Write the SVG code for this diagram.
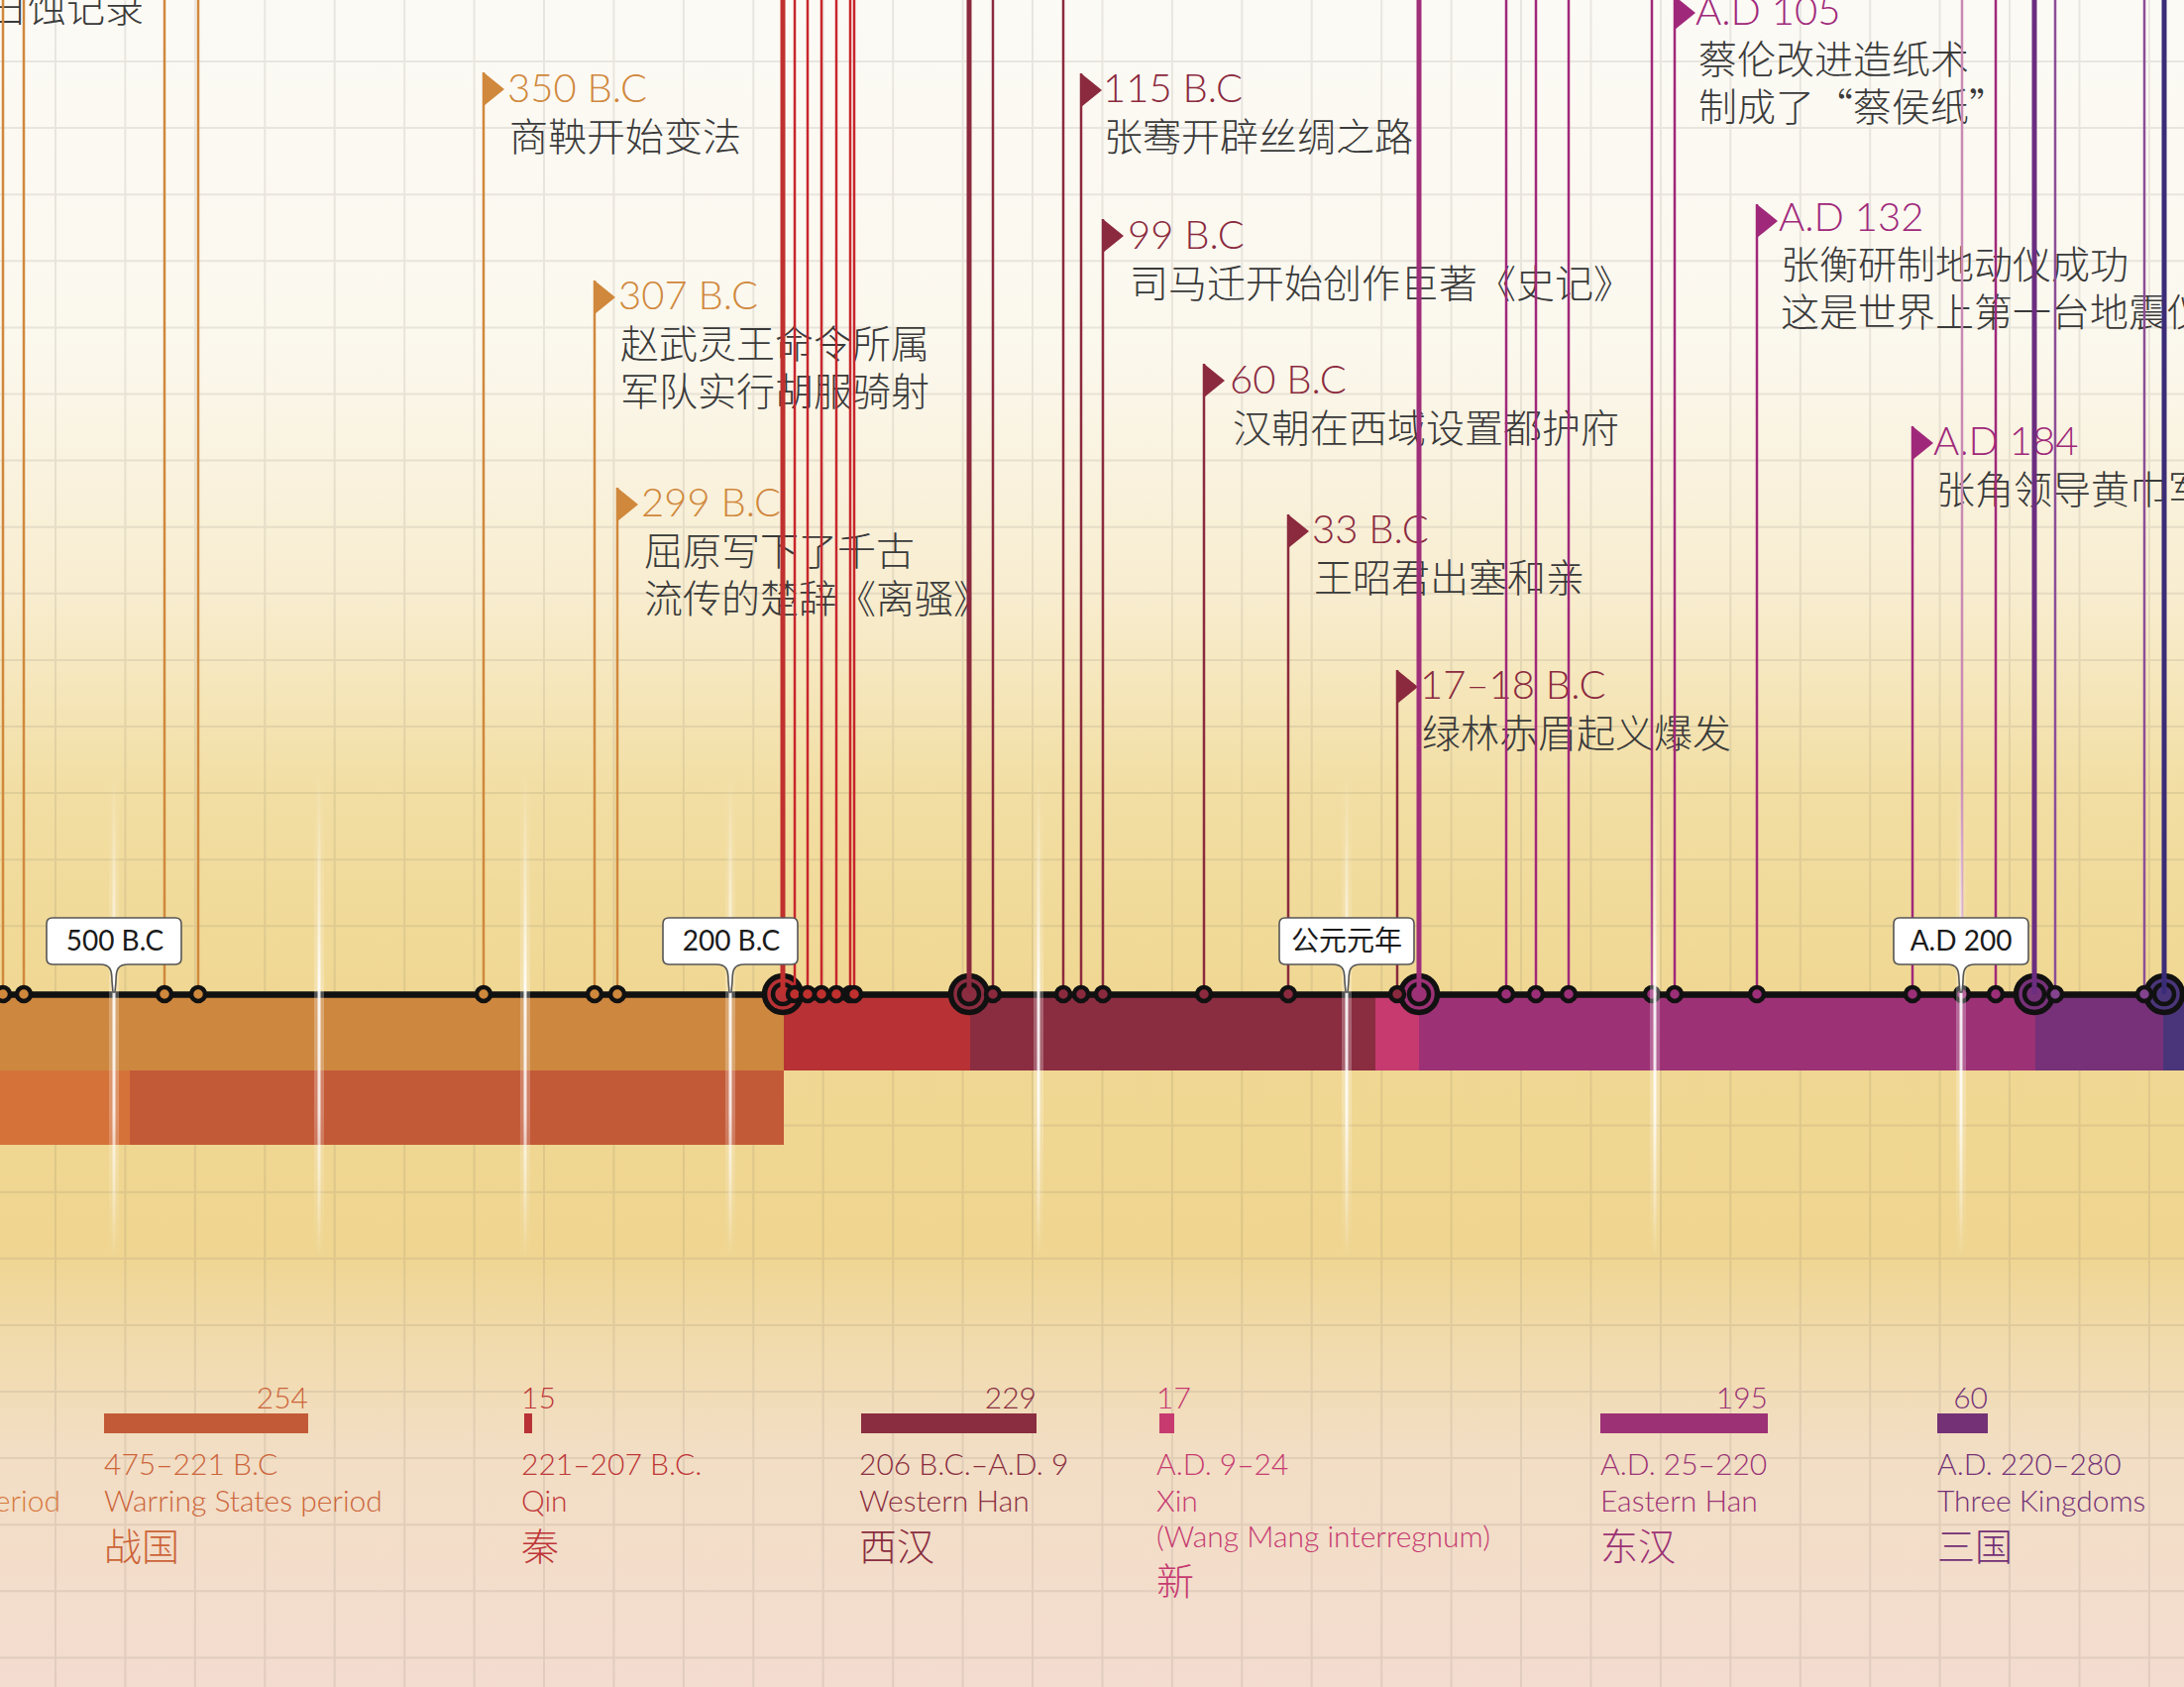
<svg xmlns="http://www.w3.org/2000/svg" width="2204" height="1702" viewBox="0 0 2204 1702">
<defs>
<linearGradient id="bg" x1="0" y1="0" x2="0" y2="1702" gradientUnits="userSpaceOnUse">
<stop offset="0" stop-color="#fcfaf5"/>
<stop offset="0.2" stop-color="#fbf8ee"/>
<stop offset="0.35" stop-color="#f8edd0"/>
<stop offset="0.47" stop-color="#f2dea3"/>
<stop offset="0.58" stop-color="#f0d894"/>
<stop offset="0.74" stop-color="#efd590"/>
<stop offset="0.8" stop-color="#f1dbae"/>
<stop offset="0.86" stop-color="#f2dec4"/>
<stop offset="1" stop-color="#f3dcd0"/>
</linearGradient>
<linearGradient id="glowG" x1="0" y1="780" x2="0" y2="1270" gradientUnits="userSpaceOnUse">
<stop offset="0" stop-color="#fff" stop-opacity="0"/>
<stop offset="0.3" stop-color="#fff" stop-opacity="0.5"/>
<stop offset="0.45" stop-color="#fff" stop-opacity="0.9"/>
<stop offset="0.7" stop-color="#fff" stop-opacity="0.8"/>
<stop offset="1" stop-color="#fff" stop-opacity="0"/>
</linearGradient>
<style>
.date{font-family:Lato,"Liberation Sans",sans-serif;font-weight:300;font-size:40px}
.desc{font-family:"Noto Sans CJK SC",sans-serif;font-weight:300;font-size:39px;fill:#3a3a3a}
.or{fill:#d0883c}
.wh{fill:#8b2a3e}
.eh{fill:#a0287a}
.ln{fill:none;stroke-width:2.5}
.thk{fill:none;stroke-width:5}
.dot{stroke:#111;stroke-width:4.5}
.big{stroke:#111;stroke-width:5.5}
.ring{fill:none;stroke:#111;stroke-width:4.5}
.box{fill:#fff;stroke:#555;stroke-width:1.6}
.boxt{font-family:Lato,"Liberation Sans","Noto Sans CJK SC",sans-serif;font-weight:400;font-size:28px;fill:#1a1a1a;text-anchor:middle}
.lg{font-family:Lato,"Liberation Sans",sans-serif;font-weight:300;font-size:30px}
.lgc{font-family:"Noto Sans CJK SC",sans-serif;font-weight:300;font-size:38px}
.glow{fill:url(#glowG)}
</style>
</defs>
<rect width="2204" height="1702" fill="url(#bg)"/>
<g id="grid">
<path fill="none" stroke="#6e645a" stroke-opacity="0.13" stroke-width="2" d="M56,0V1702M126.4,0V1702M196.9,0V1702M267.3,0V1702M337.7,0V1702M408.2,0V1702M478.6,0V1702M549,0V1702M619.4,0V1702M689.9,0V1702M760.3,0V1702M830.7,0V1702M901.2,0V1702M971.6,0V1702M1042,0V1702M1112.5,0V1702M1182.9,0V1702M1253.3,0V1702M1323.7,0V1702M1394.2,0V1702M1464.6,0V1702M1535,0V1702M1605.5,0V1702M1675.9,0V1702M1746.3,0V1702M1816.8,0V1702M1887.2,0V1702M1957.6,0V1702M2028,0V1702M2098.5,0V1702M2168.9,0V1702M0,62H2204M0,129.1H2204M0,196.2H2204M0,263.3H2204M0,330.4H2204M0,397.5H2204M0,464.6H2204M0,531.7H2204M0,598.8H2204M0,665.9H2204M0,733H2204M0,800.1H2204M0,867.2H2204M0,934.3H2204M0,1001.4H2204M0,1068.5H2204M0,1135.6H2204M0,1202.7H2204M0,1269.8H2204M0,1336.9H2204M0,1404H2204M0,1471.1H2204M0,1538.2H2204M0,1605.3H2204M0,1672.4H2204"/>
</g>
<g id="bands">
<rect x="0" y="1003" width="791" height="77" fill="#cd873f"/>
<rect x="791" y="1003" width="188" height="77" fill="#b83235"/>
<rect x="979" y="1003" width="409" height="77" fill="#8a2d40"/>
<rect x="1388" y="1003" width="44" height="77" fill="#c63a70"/>
<rect x="1432" y="1003" width="622" height="77" fill="#9c3275"/>
<rect x="2054" y="1003" width="129" height="77" fill="#763178"/>
<rect x="2183" y="1003" width="21" height="77" fill="#4b357a"/>
<rect x="0" y="1080" width="131" height="75" fill="#d5723a"/>
<rect x="131" y="1080" width="660" height="75" fill="#c35a37"/>
</g>
<g id="events">
<g id="ev-rishi"><text class="desc" x="-11" y="22">日蚀记录</text></g>
<g id="ev-350bc"><polygon class="or" points="488,73 509,90 488,107"/><text class="date or" x="512" y="103">350 B.C</text><text class="desc" x="514" y="152">商鞅开始变法</text></g>
<g id="ev-307bc"><polygon class="or" points="600,283 621,300 600,317"/><text class="date or" x="624" y="312">307 B.C</text><text class="desc" x="626" y="361">赵武灵王命令所属</text><text class="desc" x="626" y="409">军队实行胡服骑射</text></g>
<g id="ev-299bc"><polygon class="or" points="623,492 644,509 623,526"/><text class="date or" x="647" y="521">299 B.C</text><text class="desc" x="650" y="570">屈原写下了千古</text><text class="desc" x="650" y="618">流传的楚辞《离骚》</text></g>
<g id="ev-115bc"><polygon class="wh" points="1091,74 1112,91 1091,108"/><text class="date wh" x="1113" y="103">115 B.C</text><text class="desc" x="1114" y="152">张骞开辟丝绸之路</text></g>
<g id="ev-99bc"><polygon class="wh" points="1113,221 1134,238 1113,255"/><text class="date wh" x="1138" y="251">99 B.C</text><text class="desc" x="1140" y="300">司马迁开始创作巨著《史记》</text></g>
<g id="ev-60bc"><polygon class="wh" points="1215,367 1236,384 1215,401"/><text class="date wh" x="1241" y="397">60 B.C</text><text class="desc" x="1244" y="446">汉朝在西域设置都护府</text></g>
<g id="ev-33bc"><polygon class="wh" points="1300,519 1321,536 1300,553"/><text class="date wh" x="1324" y="548">33 B.C</text><text class="desc" x="1326" y="597">王昭君出塞和亲</text></g>
<g id="ev-17bc"><polygon class="wh" points="1410,676 1431,693 1410,710"/><text class="date wh" x="1433" y="705">17–18 B.C</text><text class="desc" x="1435" y="754">绿林赤眉起义爆发</text></g>
<g id="ev-105ad"><polygon class="eh" points="1690,-4 1711,13 1690,30"/><text class="date eh" x="1711" y="25">A.D 105</text><text class="desc" x="1714" y="74">蔡伦改进造纸术</text><text class="desc" x="1714" y="122">制成了“蔡侯纸”</text></g>
<g id="ev-132ad"><polygon class="eh" points="1773,206 1794,223 1773,240"/><text class="date eh" x="1795" y="233">A.D 132</text><text class="desc" x="1797" y="281">张衡研制地动仪成功</text><text class="desc" x="1797" y="329">这是世界上第一台地震仪</text></g>
<g id="ev-184ad"><polygon class="eh" points="1930,430 1951,447 1930,464"/><text class="date eh" x="1951" y="459">A.D 184</text><text class="desc" x="1954" y="508">张角领导黄巾军起义</text></g>
</g>
<g id="timeline"><line x1="0" y1="1003.5" x2="2204" y2="1003.5" stroke="#111" stroke-width="6.5"/></g>
<g id="big-markers">
<circle class="big" cx="790" cy="1003" r="18.5" fill="#b83235"/><circle class="ring" cx="790" cy="1003" r="10"/>
<circle class="big" cx="978" cy="1003" r="18.5" fill="#8a2d40"/><circle class="ring" cx="978" cy="1003" r="10"/>
<circle class="big" cx="1432" cy="1003" r="18.5" fill="#9c3275"/><circle class="ring" cx="1432" cy="1003" r="10"/>
<circle class="big" cx="2053" cy="1003" r="18.5" fill="#763178"/><circle class="ring" cx="2053" cy="1003" r="10"/>
<circle class="big" cx="2184" cy="1003" r="18.5" fill="#4b357a"/><circle class="ring" cx="2184" cy="1003" r="10"/>
</g>
<g id="connectors">
<g class="ln" stroke="#d0883c">
<line x1="3" y1="0" x2="3" y2="1003"/><line x1="24" y1="0" x2="24" y2="1003"/><line x1="166" y1="0" x2="166" y2="1003"/><line x1="200" y1="0" x2="200" y2="1003"/><line x1="488" y1="73" x2="488" y2="1003"/><line x1="600" y1="283" x2="600" y2="1003"/><line x1="623" y1="492" x2="623" y2="1003"/>
</g>
<g class="ln" stroke="#c8262c">
<line x1="802" y1="0" x2="802" y2="1003"/><line x1="815" y1="0" x2="815" y2="1003"/><line x1="829" y1="0" x2="829" y2="1003"/><line x1="844" y1="0" x2="844" y2="1003"/><line x1="858" y1="0" x2="858" y2="1003"/><line x1="862" y1="0" x2="862" y2="1003"/>
</g>
<g class="ln" stroke="#8b2a3e">
<line x1="1002" y1="0" x2="1002" y2="1003"/><line x1="1073" y1="0" x2="1073" y2="1003"/><line x1="1091" y1="74" x2="1091" y2="1003"/><line x1="1113" y1="221" x2="1113" y2="1003"/><line x1="1215" y1="367" x2="1215" y2="1003"/><line x1="1300" y1="519" x2="1300" y2="1003"/><line x1="1410" y1="676" x2="1410" y2="1003"/>
</g>
<g class="ln" stroke="#a0287a">
<line x1="1520" y1="0" x2="1520" y2="1003"/><line x1="1550" y1="0" x2="1550" y2="1003"/><line x1="1583" y1="0" x2="1583" y2="1003"/><line x1="1667" y1="0" x2="1667" y2="1003"/><line x1="1690" y1="-4" x2="1690" y2="1003"/><line x1="1773" y1="206" x2="1773" y2="1003"/><line x1="1930" y1="430" x2="1930" y2="1003"/><line x1="2014" y1="0" x2="2014" y2="1003"/>
</g>
<line class="ln" stroke="#c98ab3" x1="1980" y1="0" x2="1980" y2="1003"/>
<g class="ln" stroke="#8b4e96">
<line x1="2074" y1="0" x2="2074" y2="1003"/><line x1="2164" y1="0" x2="2164" y2="1003"/>
</g>
<line class="thk" stroke="#c0302e" x1="790" y1="0" x2="790" y2="1003"/>
<line class="thk" stroke="#8b2a3e" x1="978" y1="0" x2="978" y2="1003"/>
<line class="thk" stroke="#a02f7a" x1="1432" y1="0" x2="1432" y2="1003"/>
<line class="thk" stroke="#6b2d80" x1="2053" y1="0" x2="2053" y2="1003"/>
<line class="thk" stroke="#3b2c78" x1="2184" y1="0" x2="2184" y2="1003"/>
</g>
<g id="small-markers">
<g class="dot" fill="#d0883c"><circle cx="3" cy="1003" r="7"/><circle cx="24" cy="1003" r="7"/><circle cx="166" cy="1003" r="7"/><circle cx="200" cy="1003" r="7"/><circle cx="488" cy="1003" r="7"/><circle cx="600" cy="1003" r="7"/><circle cx="623" cy="1003" r="7"/></g>
<g class="dot" fill="#c0302e"><circle cx="802" cy="1003" r="7"/><circle cx="815" cy="1003" r="7"/><circle cx="829" cy="1003" r="7"/><circle cx="844" cy="1003" r="7"/><circle cx="858" cy="1003" r="7"/><circle cx="862" cy="1003" r="7"/></g>
<g class="dot" fill="#8b2a3e"><circle cx="1002" cy="1003" r="7"/><circle cx="1073" cy="1003" r="7"/><circle cx="1091" cy="1003" r="7"/><circle cx="1113" cy="1003" r="7"/><circle cx="1215" cy="1003" r="7"/><circle cx="1300" cy="1003" r="7"/><circle cx="1410" cy="1003" r="7"/></g>
<g class="dot" fill="#9c2f78"><circle cx="1520" cy="1003" r="7"/><circle cx="1550" cy="1003" r="7"/><circle cx="1583" cy="1003" r="7"/><circle cx="1667" cy="1003" r="7"/><circle cx="1690" cy="1003" r="7"/><circle cx="1773" cy="1003" r="7"/><circle cx="1930" cy="1003" r="7"/><circle cx="1980" cy="1003" r="7"/><circle cx="2014" cy="1003" r="7"/></g>
<g class="dot" fill="#83438f"><circle cx="2074" cy="1003" r="7"/><circle cx="2164" cy="1003" r="7"/></g>
</g>
<g id="glows">
<rect class="glow" x="110" y="780" width="10" height="490" opacity="0.3"/><rect class="glow" x="113.5" y="780" width="3" height="490"/>
<rect class="glow" x="317" y="780" width="10" height="490" opacity="0.3"/><rect class="glow" x="320.5" y="780" width="3" height="490"/>
<rect class="glow" x="525" y="780" width="10" height="490" opacity="0.3"/><rect class="glow" x="528.5" y="780" width="3" height="490"/>
<rect class="glow" x="732" y="780" width="10" height="490" opacity="0.3"/><rect class="glow" x="735.5" y="780" width="3" height="490"/>
<rect class="glow" x="1043" y="780" width="10" height="490" opacity="0.3"/><rect class="glow" x="1046.5" y="780" width="3" height="490"/>
<rect class="glow" x="1354" y="780" width="10" height="490" opacity="0.3"/><rect class="glow" x="1357.5" y="780" width="3" height="490"/>
<rect class="glow" x="1665" y="780" width="10" height="490" opacity="0.3"/><rect class="glow" x="1668.5" y="780" width="3" height="490"/>
<rect class="glow" x="1974" y="780" width="10" height="490" opacity="0.3"/><rect class="glow" x="1977.5" y="780" width="3" height="490"/>
</g>
<g id="tick-500bc"><path class="box" d="M53,926H177Q183,926 183,932V967Q183,973 177,973H129C119,973 117,978 117,990L116,1001H114L113,990C113,978 111,973 101,973H53Q47,973 47,967V932Q47,926 53,926Z"/><text class="boxt" x="116" y="959">500 B.C</text></g>
<g id="tick-200bc"><path class="box" d="M675,926H799Q805,926 805,932V967Q805,973 799,973H751C741,973 739,978 739,990L738,1001H736L735,990C735,978 733,973 723,973H675Q669,973 669,967V932Q669,926 675,926Z"/><text class="boxt" x="738" y="959">200 B.C</text></g>
<g id="tick-0"><path class="box" d="M1297,926H1421Q1427,926 1427,932V967Q1427,973 1421,973H1373C1363,973 1361,978 1361,990L1360,1001H1358L1357,990C1357,978 1355,973 1345,973H1297Q1291,973 1291,967V932Q1291,926 1297,926Z"/><text class="boxt" x="1359" y="959">公元元年</text></g>
<g id="tick-200ad"><path class="box" d="M1917,926H2041Q2047,926 2047,932V967Q2047,973 2041,973H1993C1983,973 1981,978 1981,990L1980,1001H1978L1977,990C1977,978 1975,973 1965,973H1917Q1911,973 1911,967V932Q1911,926 1917,926Z"/><text class="boxt" x="1979" y="959">A.D 200</text></g>
<g id="legend">
<g id="lg-spring" fill="#d6783c"><text class="lg" x="61" y="1525" text-anchor="end">Spring and Autumn period</text></g>
<g id="lg-warring" fill="#cc6439"><text class="lg" x="311" y="1421" text-anchor="end">254</text><rect x="105" y="1426" width="206" height="20" fill="#c35a37"/><text class="lg" x="105" y="1488">475–221 B.C</text><text class="lg" x="105" y="1525">Warring States period</text><text class="lgc" x="105" y="1574">战国</text></g>
<g id="lg-qin" fill="#be3638"><text class="lg" x="526" y="1421">15</text><rect x="529" y="1426" width="8" height="20" fill="#b83235"/><text class="lg" x="526" y="1488">221–207 B.C.</text><text class="lg" x="526" y="1525">Qin</text><text class="lgc" x="526" y="1574">秦</text></g>
<g id="lg-whan" fill="#8a2d40"><text class="lg" x="1046" y="1421" text-anchor="end">229</text><rect x="869" y="1426" width="177" height="20"/><text class="lg" x="867" y="1488">206 B.C.–A.D. 9</text><text class="lg" x="867" y="1525">Western Han</text><text class="lgc" x="867" y="1574">西汉</text></g>
<g id="lg-xin" fill="#c63a70"><text class="lg" x="1167" y="1421">17</text><rect x="1170" y="1426" width="15" height="20"/><text class="lg" x="1167" y="1488">A.D. 9–24</text><text class="lg" x="1167" y="1525">Xin</text><text class="lg" x="1167" y="1561">(Wang Mang interregnum)</text><text class="lgc" x="1167" y="1609">新</text></g>
<g id="lg-ehan" fill="#9c3275"><text class="lg" x="1784" y="1421" text-anchor="end">195</text><rect x="1615" y="1426" width="169" height="20"/><text class="lg" x="1615" y="1488">A.D. 25–220</text><text class="lg" x="1615" y="1525">Eastern Han</text><text class="lgc" x="1615" y="1574">东汉</text></g>
<g id="lg-three" fill="#743176"><text class="lg" x="2006" y="1421" text-anchor="end">60</text><rect x="1955" y="1426" width="51" height="20"/><text class="lg" x="1955" y="1488">A.D. 220–280</text><text class="lg" x="1955" y="1525">Three Kingdoms</text><text class="lgc" x="1955" y="1574">三国</text></g>
</g>
</svg>
